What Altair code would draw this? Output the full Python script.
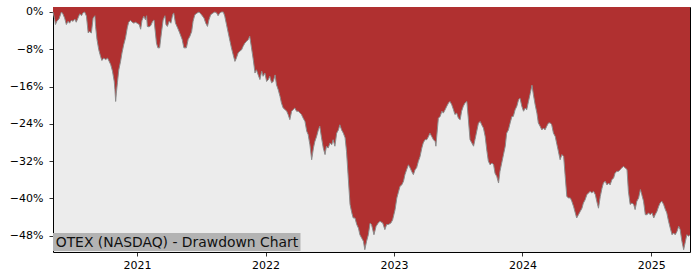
import altair as alt
import pandas as pd

START = "2020-05-07"
TITLE = "OTEX (NASDAQ) - Drawdown Chart"

# days since START, drawdown in percent
days_a = [0, 5, 7, 11, 17, 24, 28, 33, 38, 43, 47, 52, 57, 62, 66, 71, 76, 81, 85, 90,
          95, 100, 104, 109, 114, 119, 121, 125, 130, 135, 139, 144, 150, 155, 159, 164,
          169, 174, 176, 178, 180, 183, 187, 192, 196, 201, 206, 211, 215, 220, 225, 230,
          234, 239, 245, 249, 253, 258, 263, 266, 268, 273, 278, 283, 287, 291, 294, 298,
          303, 308, 313, 318, 321, 325, 330, 335, 340, 343, 348, 354, 360, 367, 372, 379,
          384, 389, 394, 398, 403, 410, 415, 422, 429, 434, 439, 443, 448, 455, 460, 465,
          469, 474, 479, 484]
dd_a = [0, -1.65, -2.7, -2.0, -1.5, 0, -0.4, -1.3, -2.7, -2.0, -2.4, -1.8, -2.0, -1.5, -2.2,
        -1.3, -0.4, -0.8, -0.2, 0, -0.9, -4.5, -4.2, -4.5, -1.3, -0.8, -3.1, -5.9, -8.1, -9.5,
        -10.4, -9.9, -10.2, -9.9, -10.5, -11.3, -12.7, -14.9, -16.7, -19.2, -17.4, -15.2,
        -12.4, -10.6, -8.8, -7.0, -5.6, -3.4, -2.2, -1.8, -2.2, -2.4, -2.2, -2.4, -2.7, -3.7,
        -1.8, -0.9, -1.7, -0.8, -3.1, -3.2, -2.9, -2.0, -1.7, -4.5, -6.7, -7.7, -7.7, -4.5,
        -1.7, -0.8, -2.7, -3.1, -2.0, -2.4, -0.6, -0.2, -2.4, -3.4, -4.5, -5.9, -7.7, -7.7,
        -5.9, -5.2, -4.2, -2.0, -0.6, -0.2, 0, -0.6, -1.3, -2.4, -3.1, -1.7, -0.6, -0.2, 0,
        -0.2, -0.8, -0.2, 0, 0]

days_b = [488, 493, 498, 503, 507, 512, 517, 521, 526, 531, 536, 540, 545, 550, 555, 559,
          564, 569, 574, 578, 583, 588, 593, 597, 602, 607, 612, 616, 621, 626, 631, 635,
          640, 645, 649, 654, 659, 664, 668, 673, 678, 683, 687, 692, 697, 702, 706, 711,
          716, 721, 725, 730, 735, 740, 744, 749, 754, 758, 763, 768, 773, 777, 782, 787,
          792, 796, 801, 806, 811, 815, 820, 825, 830, 834, 839, 844, 849, 853, 858, 863,
          868, 872, 877, 882, 886, 891, 896]
dd_b = [-0.9, -2.7, -4.5, -6.3, -7.7, -9.2, -10.6, -9.9, -8.8, -8.4, -8.1, -7.4, -6.7, -6.3,
        -5.9, -5.2, -7.7, -10.2, -13.1, -12.4, -13.5, -14.5, -12.7, -13.8, -13.1, -14.9,
        -14.5, -13.8, -15.2, -14.9, -13.5, -15.6, -16.7, -18.1, -19.5, -20.6, -20.9, -21.3,
        -22.0, -23.1, -21.3, -20.9, -20.6, -21.3, -21.3, -21.7, -22.0, -22.8, -23.5, -25.6,
        -26.3, -28.5, -31.7, -29.2, -27.8, -26.7, -25.3, -24.5, -27.0, -29.2, -30.6, -28.8,
        -29.2, -28.1, -28.5, -27.4, -28.8, -26.0, -25.3, -24.2, -25.3, -26.0, -27.0, -29.9,
        -35.6, -41.3, -43.1, -44.2, -44.2, -45.6, -46.4, -47.8, -48.5, -49.2, -51.0, -49.2,
        -47.8]

days_c = [901, 905, 912, 918, 924, 929, 937, 943, 948, 953, 960, 965, 972, 977, 981, 986,
          991, 996, 1000, 1005, 1010, 1015, 1019, 1024, 1029, 1033, 1038, 1043, 1048, 1052,
          1057, 1062, 1067, 1071, 1076, 1081, 1086, 1088, 1090, 1095, 1100, 1105, 1109, 1114,
          1119, 1124, 1128, 1133, 1138, 1142, 1147, 1152, 1157, 1161, 1166, 1171, 1176, 1180,
          1185, 1190, 1195, 1199, 1204, 1209, 1214, 1218, 1223, 1228, 1233, 1237, 1242, 1247,
          1252, 1256, 1261, 1266, 1270, 1275, 1280, 1285, 1289, 1294, 1299, 1304, 1308, 1313,
          1318, 1323, 1327, 1332, 1337, 1342, 1346, 1351, 1356, 1361]
dd_c = [-45.3, -45.6, -47.8, -46.0, -45.3, -44.9, -45.3, -46.7, -45.6, -45.6, -45.3, -44.6,
        -42.4, -39.9, -38.8, -37.4, -37.1, -36.3, -34.9, -33.8, -32.8, -33.5, -34.2, -34.9,
        -33.8, -33.5, -32.1, -31.0, -29.2, -28.1, -27.4, -27.4, -26.7, -26.0, -26.7, -27.4,
        -27.8, -28.8, -27.0, -22.8, -22.4, -21.3, -21.7, -21.0, -20.2, -19.5, -19.2, -19.9,
        -21.0, -22.0, -21.7, -22.8, -23.1, -21.3, -20.2, -19.5, -19.2, -22.8, -27.4, -28.1,
        -28.8, -27.4, -25.6, -23.8, -23.5, -24.2, -24.9, -26.7, -29.9, -32.0, -32.8, -32.4,
        -32.8, -34.6, -35.3, -36.7, -34.2, -32.4, -30.6, -28.8, -26.0, -25.3, -23.8, -22.4,
        -22.4, -21.0, -20.2, -18.8, -18.5, -20.2, -21.3, -20.6, -21.0, -19.2, -17.5, -15.7]

days_d = [1365, 1370, 1375, 1379, 1384, 1389, 1394, 1398, 1403, 1408, 1413, 1417, 1422,
          1427, 1432, 1436, 1441, 1446, 1451, 1455, 1460, 1465, 1470, 1474, 1479, 1484,
          1488, 1493, 1498, 1503, 1507, 1512, 1517, 1522, 1526, 1531, 1536, 1541, 1545,
          1550, 1555, 1560, 1564, 1569, 1574, 1579, 1583, 1588, 1593, 1597, 1602, 1607,
          1612, 1616, 1621, 1626, 1631, 1635, 1640, 1645, 1650, 1654, 1659, 1664, 1669,
          1673, 1678, 1683, 1688, 1692, 1697, 1702, 1707, 1711, 1716, 1721, 1725, 1730,
          1735, 1740, 1744, 1749, 1754, 1759, 1763, 1768, 1773, 1778, 1782, 1787, 1792,
          1797, 1801, 1806, 1810]
dd_d = [-17.7, -19.9, -21.7, -23.8, -24.5, -25.3, -24.9, -25.3, -24.5, -23.8, -23.8, -24.2,
        -26.0, -26.7, -28.5, -29.9, -31.7, -30.6, -31.0, -34.9, -39.6, -39.9, -39.9, -40.6,
        -41.7, -43.1, -44.2, -43.5, -42.8, -42.1, -41.0, -40.3, -39.2, -38.8, -38.5, -38.8,
        -38.5, -39.2, -40.6, -42.1, -39.6, -37.8, -36.7, -36.3, -37.1, -36.7, -37.1, -36.0,
        -35.6, -34.6, -34.2, -34.2, -33.8, -33.5, -33.1, -33.5, -33.8, -38.5, -41.3, -41.0,
        -41.3, -42.4, -40.6, -39.9, -38.1, -39.2, -40.6, -43.5, -43.5, -43.1, -43.5, -43.1,
        -44.2, -43.5, -42.8, -41.7, -41.0, -40.6, -41.3, -42.4, -43.1, -44.9, -46.4, -47.8,
        -47.4, -47.8, -47.1, -46.0, -46.7, -49.2, -51.0, -49.2, -47.8, -48.1, -47.8]

Y_TICKS = [0, -8, -16, -24, -32, -40, -48]
X_TICK_YEARS = [2021, 2022, 2023, 2024, 2025]
Y_DOMAIN = [-51.5, 1.07]

days = days_a + days_b + days_c + days_d
dd = dd_a + dd_b + dd_c + dd_d
ts = pd.Timestamp(START) + pd.to_timedelta(days, unit="D")
df = pd.DataFrame({"date": ts.strftime("%Y-%m-%dT00:00:00"), "dd": dd})

t0, t1 = ts[0], ts[-1]
x_dom = [alt.DateTime(year=t0.year, month=t0.month, date=t0.day),
         alt.DateTime(year=t1.year, month=t1.month, date=t1.day)]

FONT = "DejaVu Sans"

x_enc = alt.X(
    "date:T",
    title=None,
    scale=alt.Scale(domain=x_dom, nice=False),
    axis=alt.Axis(values=[alt.DateTime(year=y, month=1, date=1) for y in X_TICK_YEARS],
                  format="%Y", labelPadding=3, labelAngle=0),
)
y_enc = alt.Y(
    "dd:Q",
    title=None,
    scale=alt.Scale(domain=Y_DOMAIN, nice=False, zero=False),
    axis=alt.Axis(values=Y_TICKS, format="d", labelExpr="datum.label + '%'",
                  labelPadding=6),
)

base = alt.Chart(df)
area = base.mark_area(color="#b03030", opacity=1).encode(
    x=x_enc, y=y_enc, y2=alt.datum(Y_DOMAIN[1])
)
line = base.mark_line(color="#8c8c8c", strokeWidth=1).encode(x=x_enc, y=y_enc)

lab = pd.DataFrame({"t": [TITLE]})
box = alt.Chart(lab).mark_rect(color="#b3b3b3").encode(
    x=alt.value(0), x2=alt.value(247.5), y=alt.value(226), y2=alt.value(244)
)
txt = alt.Chart(lab).mark_text(
    align="left", baseline="alphabetic", fontSize=13.9, font=FONT, color="#111111"
).encode(x=alt.value(2.7), y=alt.value(240), text="t:N")

chart = alt.layer(area, line, box, txt).properties(
    width=637,
    height=245,
    autosize=alt.AutoSizeParams(type="none"),
    padding={"left": 53, "top": 7, "right": 10, "bottom": 28},
    background="white",
).configure_view(
    fill="#ececec", stroke="black", strokeWidth=1
).configure_axis(
    domain=False, grid=False, ticks=True, tickColor="black", tickSize=4, tickWidth=0.8,
    labelFont=FONT, labelFontSize=11, labelColor="black",
)

chart.save("out.html", embed_options={"renderer": "svg", "actions": False})
